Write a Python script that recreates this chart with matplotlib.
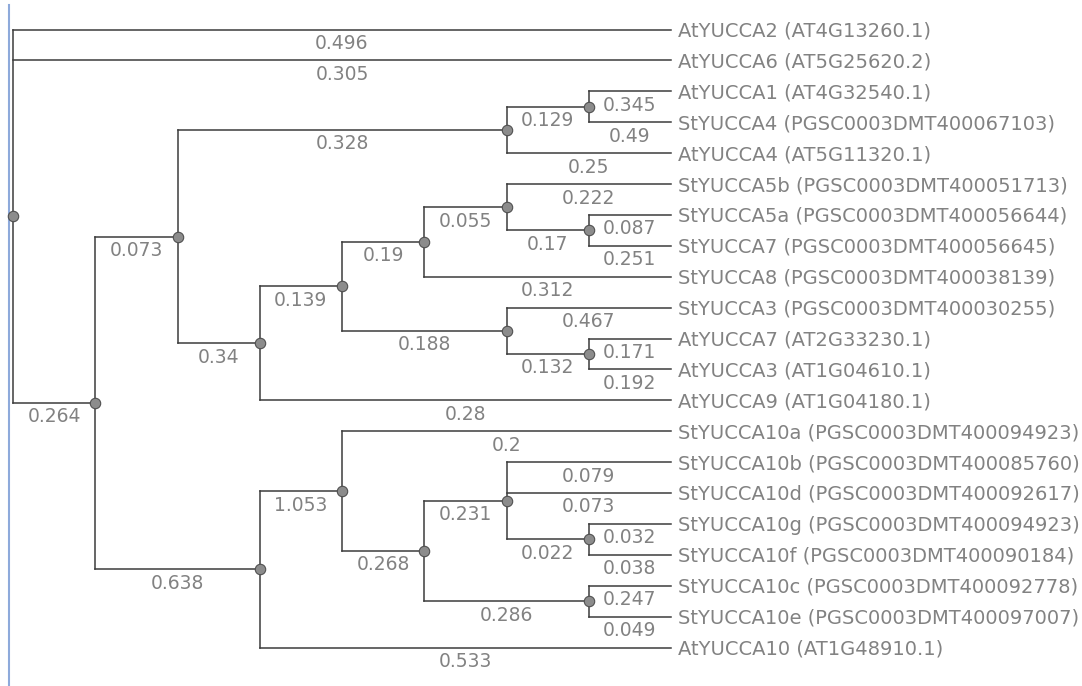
import matplotlib
matplotlib.use("Agg")
import matplotlib.pyplot as plt

tip_names = ["AtYUCCA2", "AtYUCCA6", "AtYUCCA1", "StYUCCA4", "AtYUCCA4",
             "StYUCCA5b", "StYUCCA5a", "StYUCCA7", "StYUCCA8", "StYUCCA3",
             "AtYUCCA7", "AtYUCCA3", "AtYUCCA9", "StYUCCA10a", "StYUCCA10b",
             "StYUCCA10d", "StYUCCA10g", "StYUCCA10f", "StYUCCA10c",
             "StYUCCA10e", "AtYUCCA10"]
tip_ids = ["AT4G13260.1", "AT5G25620.2", "AT4G32540.1", "PGSC0003DMT400067103",
           "AT5G11320.1", "PGSC0003DMT400051713", "PGSC0003DMT400056644",
           "PGSC0003DMT400056645", "PGSC0003DMT400038139", "PGSC0003DMT400030255",
           "AT2G33230.1", "AT1G04610.1", "AT1G04180.1", "PGSC0003DMT400094923",
           "PGSC0003DMT400085760", "PGSC0003DMT400092617", "PGSC0003DMT400094923",
           "PGSC0003DMT400090184", "PGSC0003DMT400092778", "PGSC0003DMT400097007",
           "AT1G48910.1"]
tip_lengths = [0.496, 0.305, 0.345, 0.49, 0.25, 0.222, 0.087, 0.251, 0.312,
               0.467, 0.171, 0.192, 0.28, 0.2, 0.079, 0.073, 0.032, 0.038,
               0.247, 0.049, 0.533]

# internal nodes: name, children, branch length to parent
node_names = ["root", "A", "B", "P", "Q", "C", "D", "E", "F", "G", "H", "I",
              "J", "K", "L", "M", "N", "O"]
node_children = [
    ["AtYUCCA2", "AtYUCCA6", "A"],
    ["B", "J"],
    ["P", "C"],
    ["Q", "AtYUCCA4"],
    ["AtYUCCA1", "StYUCCA4"],
    ["D", "AtYUCCA9"],
    ["E", "H"],
    ["F", "StYUCCA8"],
    ["StYUCCA5b", "G"],
    ["StYUCCA5a", "StYUCCA7"],
    ["StYUCCA3", "I"],
    ["AtYUCCA7", "AtYUCCA3"],
    ["K", "AtYUCCA10"],
    ["StYUCCA10a", "L"],
    ["M", "O"],
    ["StYUCCA10b", "StYUCCA10d", "N"],
    ["StYUCCA10g", "StYUCCA10f"],
    ["StYUCCA10c", "StYUCCA10e"],
]
node_lengths = [None, 0.264, 0.073, 0.328, 0.129, 0.34, 0.139, 0.19, 0.055,
                0.17, 0.188, 0.132, 0.638, 1.053, 0.268, 0.231, 0.022, 0.286]

# layout (pixels)
tip_x = 671
x_step = 82.25
y0 = 29.5
y_step = 30.9

line_col = "#3c3c3c"
text_col = "#828282"

children = dict(zip(node_names, node_children))
lengths = dict(zip(tip_names, tip_lengths))
lengths.update(zip(node_names, node_lengths))


def height(n):
    if n not in children:
        return 0
    return 1 + max(height(c) for c in children[n])


def ypos(n):
    if n not in children:
        return y0 + tip_names.index(n) * y_step
    kids = children[n]
    return (ypos(kids[0]) + ypos(kids[-1])) / 2


def xpos(n):
    return tip_x - height(n) * x_step


fig = plt.figure(figsize=(10.82, 6.86), dpi=100)
ax = fig.add_axes([0, 0, 1, 1])
ax.set_xlim(0, 1082)
ax.set_ylim(686, 0)
ax.axis("off")

ax.plot([9, 9], [5, 686], color="#8eaadb", lw=1.5)

for n in node_names:
    kids = children[n]
    nx = xpos(n)
    ax.plot([nx, nx], [ypos(kids[0]), ypos(kids[-1])], color=line_col, lw=1.1,
            solid_capstyle="projecting")
    for c in kids:
        cx, cy = xpos(c), ypos(c)
        ax.plot([nx, cx], [cy, cy], color=line_col, lw=1.1,
                solid_capstyle="projecting")
        ax.text((nx + cx) / 2, cy + 19.5, f"{lengths[c]:g}", ha="center",
                va="baseline", fontsize=13.5, color=text_col)

for n in node_names:
    ax.plot(xpos(n), ypos(n), "o", ms=7.5, mfc="#8c8c8c", mec="#505050",
            mew=0.8, zorder=5)

for name, gid in zip(tip_names, tip_ids):
    ax.text(tip_x + 7, ypos(name) + 7, f"{name} ({gid})", ha="left",
            va="baseline", fontsize=14, color=text_col)

fig.savefig("out.png", dpi=100)
